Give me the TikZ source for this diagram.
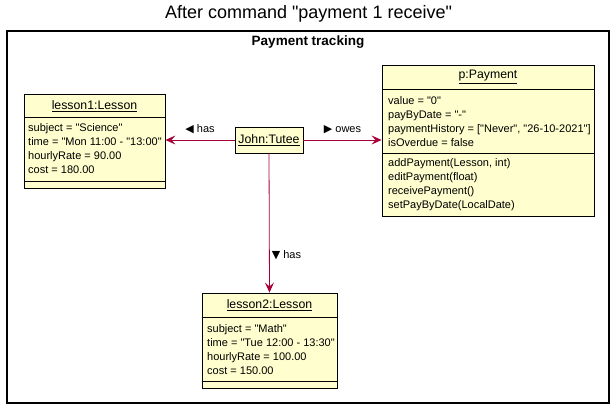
\documentclass[tikz,border=0pt]{standalone}
\usepackage{fontspec}
\setmainfont{Liberation Sans}[Ligatures=TeXOff]
\newfontfamily\symfont{DejaVu Sans}
\usepackage{xcolor}
\usetikzlibrary{positioning, calc, arrows.meta}
\definecolor{objfill}{HTML}{FEFECE}
\definecolor{linkred}{HTML}{A80036}

\begin{document}
\begin{tikzpicture}[x=1pt, y=-1pt,
    obj/.style={draw, fill=objfill, line width=0.9pt, inner sep=0pt},
    sep/.style={line width=0.9pt},
    txt/.style={inner sep=0pt, align=left, font=\fontsize{11}{14}\selectfont},
    head/.style={inner sep=0pt, font=\fontsize{12.3}{14}\selectfont},
    arw/.style={-{Stealth[length=10pt, width=9pt, inset=4pt]}, color=linkred, line width=0.8pt},
    lbl/.style={inner sep=0pt, text=black, font=\fontsize{11}{13}\selectfont},
]
\useasboundingbox (0,0) rectangle (615,409);
\node[font=\fontsize{18}{20}\selectfont] (title) at (308.5,14) {After command "payment 1 receive"};
\node[draw, line width=1.5pt, minimum width=602, minimum height=372, inner sep=0pt] (frame) at (308,217) {};
\node[font=\bfseries\fontsize{13.5}{15}\selectfont] (pkg) at (308,42) {Payment tracking};

\node[obj, minimum width=141, minimum height=94] (l1) at (94.5,141) {};
\node[obj, minimum width=212, minimum height=151] (pay) at (488,140.5) {};
\node[obj, minimum width=135, minimum height=95] (l2) at (269.5,340.5) {};
\node[obj, minimum width=68, minimum height=26, font=\fontsize{12.3}{14}\selectfont] (john) at (269,140) {\underline{John:Tutee}};

\foreach \n/\y in {l1/117, l1/181, pay/89, pay/153, l2/317, l2/381}
    \draw[sep] (\n.west |- 0,\y) -- (\n.east |- 0,\y);

\node[head] (l1t) at (94.5,106) {\underline{lesson1:Lesson}};
\node[txt, anchor=west] (l1a) at (28,149) {subject = "Science"\\time = "Mon 11:00 - "13:00"\\hourlyRate = 90.00\\cost = 180.00};

\node[head] (payt) at (488,77) {\underline{p:Payment}};
\node[txt, anchor=west] (paya) at (388,122) {value = "0"\\payByDate = "-"\\paymentHistory = ["Never", "26-10-2021"]\\isOverdue = false};
\node[txt, anchor=west] (paym) at (388,185) {addPayment(Lesson, int)\\editPayment(float)\\receivePayment()\\setPayByDate(LocalDate)};

\node[head] (l2t) at (269.5,305) {\underline{lesson2:Lesson}};
\node[txt, anchor=west] (l2a) at (207,350) {subject = "Math"\\time = "Tue 12:00 - 13:30"\\hourlyRate = 100.00\\cost = 150.00};

\draw[arw] (john.west) -- (john.west -| l1.east) node[lbl, midway, above=6pt] {{\symfont ◀} has};
\draw[arw] (john.east) -- (john.east -| pay.west) node[lbl, midway, above=6pt] {{\symfont ▶} owes};
\draw[arw] (john.south) -- (l2.north) node[lbl, pos=0.73, right=2pt] {{\symfont ▼} has};
\end{tikzpicture}
\end{document}
